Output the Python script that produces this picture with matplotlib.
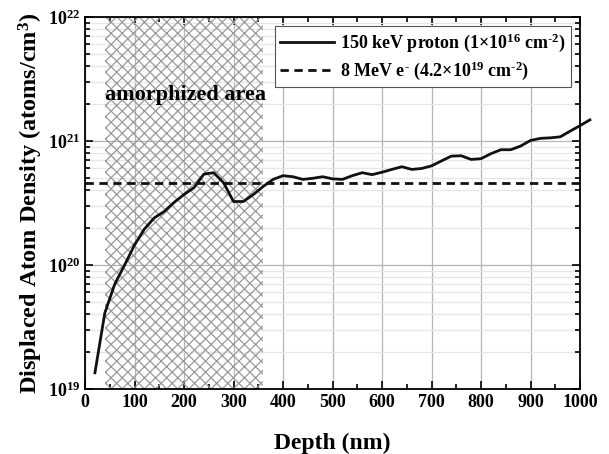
import numpy as np
import matplotlib
matplotlib.use("Agg")
import matplotlib.pyplot as plt
from matplotlib.ticker import MultipleLocator, LogLocator, NullFormatter

# depth (nm) and displaced atom density (atoms/cm^3) for 150 keV proton
depth = [20, 40, 60, 80, 100, 120, 140, 160, 180, 200,
         220, 240, 260, 280, 300, 320, 340, 360, 380, 400,
         420, 440, 460, 480, 500, 520, 540, 560, 580, 600,
         620, 640, 660, 680, 700, 720, 740, 760, 780, 800,
         820, 840, 860, 880, 900, 920, 940, 960, 980, 1000, 1020]
proton = [1.35e19, 4.1e19, 7.0e19, 1.0e20, 1.45e20, 1.95e20, 2.4e20, 2.7e20, 3.2e20, 3.7e20,
          4.2e20, 5.4e20, 5.55e20, 4.6e20, 3.25e20, 3.25e20, 3.7e20, 4.3e20, 4.9e20, 5.25e20,
          5.15e20, 4.9e20, 5.0e20, 5.15e20, 4.95e20, 4.9e20, 5.25e20, 5.55e20, 5.35e20, 5.6e20,
          5.9e20, 6.2e20, 5.9e20, 6.0e20, 6.3e20, 6.9e20, 7.55e20, 7.6e20, 7.1e20, 7.2e20,
          7.9e20, 8.5e20, 8.5e20, 9.1e20, 1.01e21, 1.05e21, 1.06e21, 1.08e21, 1.2e21, 1.33e21, 1.48e21]
electron_level = 4.55e20
amorph_range = (40, 360)

plt.rcParams['font.family'] = ['Liberation Serif', 'DejaVu Serif']
plt.rcParams['font.weight'] = 'bold'
plt.rcParams['mathtext.fontset'] = 'custom'
plt.rcParams['mathtext.rm'] = 'Liberation Serif:bold'
plt.rcParams['mathtext.default'] = 'rm'
plt.rcParams['hatch.color'] = '#9a9a9a'
plt.rcParams['hatch.linewidth'] = 0.9

fig = plt.figure(figsize=(6.09, 4.54), dpi=100)
ax = fig.add_axes([0.1396, 0.1432, 0.8128, 0.8194])

# amorphized region
ax.axvspan(amorph_range[0], amorph_range[1], facecolor='none', edgecolor='#9a9a9a',
           hatch='xxx', linewidth=0, zorder=1)

ax.plot(depth, proton, color='#111111', lw=2, label='150 keV proton (1\u00d710$^{16}$ cm$^{\u2010 2}$)',
        clip_on=False, zorder=4)
ax.axhline(electron_level, color='#111111', lw=2, ls=(0, (3, 2)),
           label='8 MeV e$^{\u2010}$ (4.2\u00d710$^{19}$ cm$^{\u2010 2}$)', zorder=4)

ax.set_yscale('log')
ax.set_xlim(0, 1000)
ax.set_ylim(1e19, 1e22)
ax.xaxis.set_major_locator(MultipleLocator(100))
ax.xaxis.set_minor_locator(MultipleLocator(50))
ax.yaxis.set_major_locator(LogLocator(base=10, numticks=10))
ax.yaxis.set_minor_locator(LogLocator(base=10, subs=np.arange(2, 10), numticks=10))
ax.yaxis.set_minor_formatter(NullFormatter())

ax.grid(True, which='major', color='#b5b5b5', lw=0.9, zorder=0)
ax.grid(True, which='minor', axis='y', color='#e6e6e6', lw=0.9, zorder=0)
ax.set_axisbelow(True)

ax.tick_params(which='both', direction='in', top=True, right=True, labelsize=13, width=1.2)
ax.tick_params(which='major', length=6)
ax.tick_params(which='minor', length=3.5)
for s in ax.spines.values():
    s.set_linewidth(1.3)

ax.set_xlabel('Depth (nm)', fontsize=17, fontweight='bold', labelpad=16)
ax.set_ylabel('Displaced Atom Density (atoms/cm$^{3}$)', fontsize=17.5, fontweight='bold', labelpad=2)

ax.text(40, 2.15e21, 'amorphized area', fontsize=16, fontweight='bold', zorder=5)

leg = ax.legend(loc='upper right', fontsize=13, handlelength=3.0, frameon=True, fancybox=False,
                borderaxespad=0.5, labelspacing=0.3, handletextpad=0.3, borderpad=0.3)
leg.get_frame().set_edgecolor('#555555')
leg.get_frame().set_linewidth(0.8)
leg.get_frame().set_alpha(1)

fig.savefig('out.png', dpi=100)
